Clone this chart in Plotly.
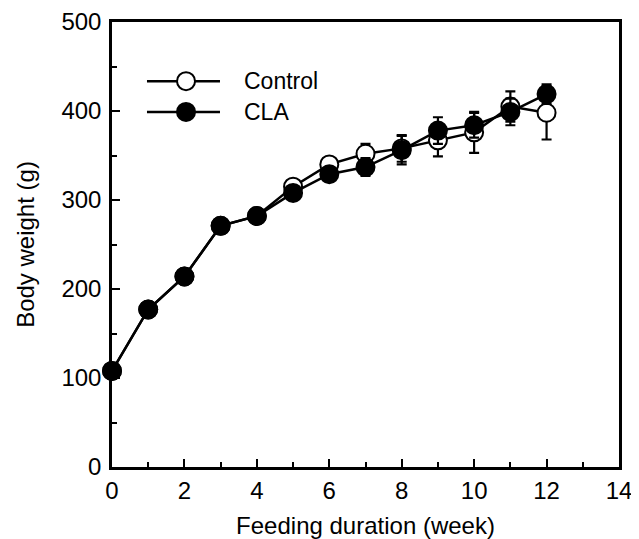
import plotly.graph_objects as go

weeks = [0, 1, 2, 3, 4, 5, 6, 7, 8, 9, 10, 11, 12]
control = [108, 177, 214, 271, 282, 315, 340, 352, 358, 367, 376, 405, 398]
control_err = [2, 3, 3, 3, 3, 4, 5, 11, 15, 18, 23, 17, 30]
cla = [108, 177, 214, 271, 282, 308, 329, 337, 356, 378, 384, 399, 419]
cla_err = [2, 3, 3, 3, 3, 4, 5, 10, 16, 15, 14, 15, 11]

x_ticks = [0, 2, 4, 6, 8, 10, 12, 14]
y_ticks = [0, 100, 200, 300, 400, 500]
series_names = ["Control", "CLA"]

FONT = "Liberation Sans, Arial, Helvetica, sans-serif"

fig = go.Figure()
fig.add_trace(go.Scatter(
    x=weeks, y=control, mode="lines+markers", name=series_names[0],
    line=dict(color="black", width=2.5),
    marker=dict(size=18, color="white", line=dict(color="black", width=2)),
    error_y=dict(type="data", array=control_err, visible=True,
                 color="black", thickness=2.2, width=5),
    showlegend=False, cliponaxis=False,
))
fig.add_trace(go.Scatter(
    x=weeks, y=cla, mode="lines+markers", name=series_names[1],
    line=dict(color="black", width=2.5),
    marker=dict(size=18, color="black", line=dict(color="black", width=2)),
    error_y=dict(type="data", array=cla_err, visible=True,
                 color="black", thickness=2.2, width=5),
    showlegend=False, cliponaxis=False,
))

# Manual legend (long line sample with a centred marker)
shapes = []
annotations = []
legend_rows = [(0.867, "white"), (0.798, "black")]
for (yy, fill), name in zip(legend_rows, series_names):
    shapes.append(dict(type="line", xref="paper", yref="paper",
                       x0=0.069, x1=0.213, y0=yy, y1=yy,
                       line=dict(color="black", width=2.5)))
    shapes.append(dict(type="circle", xref="paper", yref="paper",
                       xsizemode="pixel", ysizemode="pixel",
                       xanchor=0.146, yanchor=yy,
                       x0=-9, x1=9, y0=-9, y1=9,
                       fillcolor=fill, line=dict(color="black", width=2)))
    annotations.append(dict(xref="paper", yref="paper", x=0.256, y=yy,
                            text=name, showarrow=False, xanchor="left",
                            yanchor="middle",
                            font=dict(family=FONT, size=23, color="black")))

axis_common = dict(
    showline=True, linecolor="black", linewidth=2.5, mirror=True,
    ticks="inside", ticklen=8, tickwidth=2, tickcolor="black",
    showgrid=False, zeroline=False, automargin=False,
    tickfont=dict(family=FONT, size=24, color="black"),
)

# page body has an 8px margin, so the figure is sized to fit the window
fig.update_layout(
    width=631, height=531,
    margin=dict(l=104, r=20, t=14, b=72),
    paper_bgcolor="white", plot_bgcolor="white",
    font=dict(family=FONT, size=24, color="black"),
    shapes=shapes, annotations=annotations,
    xaxis=dict(
        range=[0, 14], tickvals=x_ticks, ticklabelstandoff=0,
        minor=dict(ticks="inside", dtick=1, tick0=0, ticklen=5,
                   tickwidth=2, tickcolor="black"),
        title=dict(text="Feeding duration (week)", standoff=26,
                   font=dict(family=FONT, size=24, color="black")),
        **axis_common,
    ),
    yaxis=dict(
        range=[0, 500], tickvals=y_ticks, ticklabelstandoff=3,
        minor=dict(ticks="inside", dtick=50, tick0=0, ticklen=5,
                   tickwidth=2, tickcolor="black"),
        title=dict(text="Body weight (g)", standoff=21,
                   font=dict(family=FONT, size=24, color="black")),
        **axis_common,
    ),
)

fig.write_html("out.html")
